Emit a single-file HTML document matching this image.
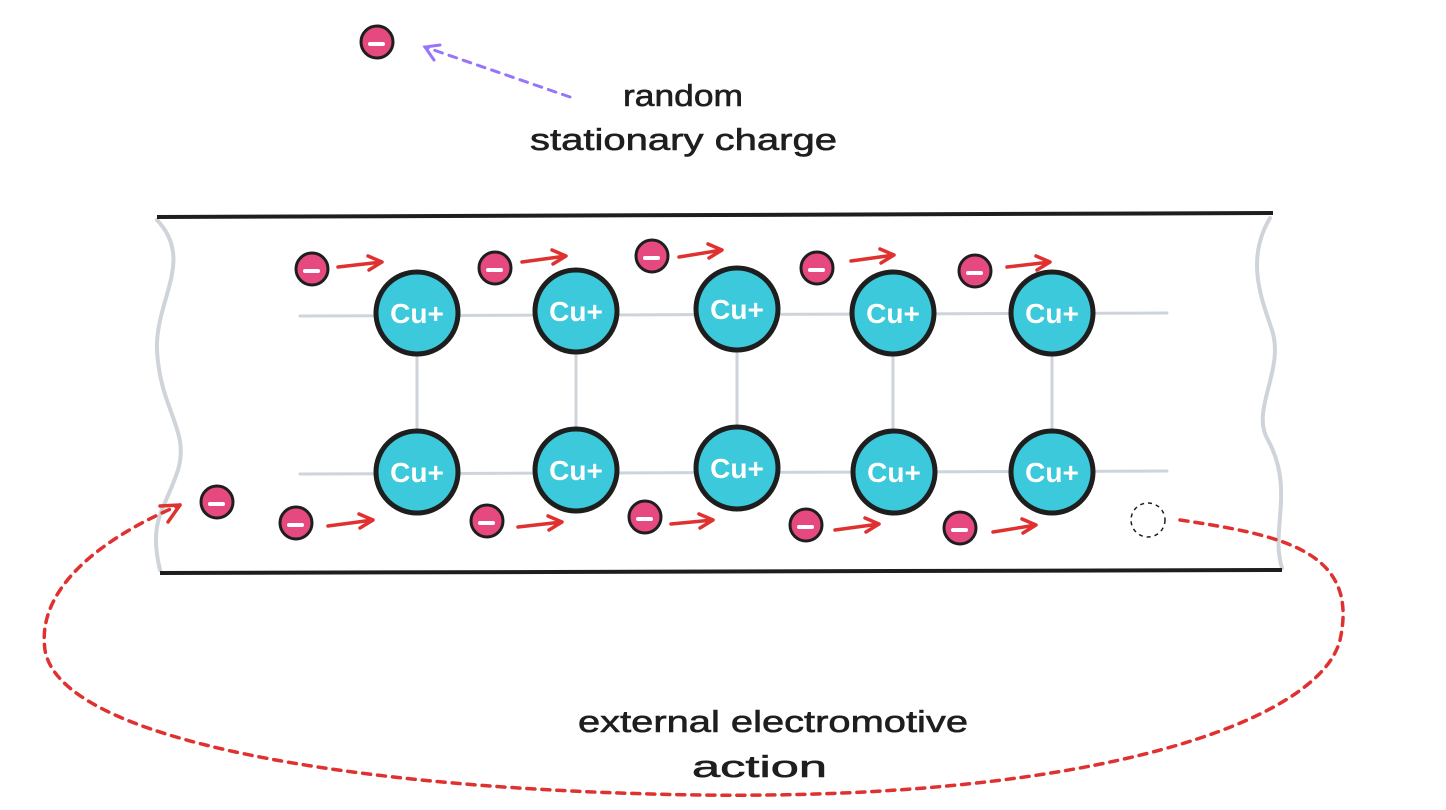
<!DOCTYPE html>
<html><head><meta charset="utf-8"><style>body{margin:0;background:#fff}svg{display:block}</style></head><body>
<svg width="1446" height="810" viewBox="0 0 1446 810" xmlns="http://www.w3.org/2000/svg" font-family="'Comic Sans MS','Liberation Sans',sans-serif">
<g stroke="#ced4da" stroke-width="3" fill="none" stroke-linecap="round">
<path d="M300 316 L1167 313"/><path d="M300 474 L1167 471"/>
<path d="M417 313 V472"/><path d="M576 311 V470"/><path d="M737 309 V468"/><path d="M893 313 V472"/><path d="M1052 313 V472"/>
<path d="M157 220 C195 260 155 300 157 350 C160 410 190 430 178 470 C165 510 148 520 160 570" stroke-width="4"/>
<path d="M1270 218 C1245 260 1262 300 1272 330 C1285 370 1250 410 1268 440 C1295 490 1270 530 1282 568" stroke-width="4"/>
</g>
<path d="M157 217 L1273 213" stroke="#1e1e1e" stroke-width="4"/>
<path d="M160 573 L1282 570" stroke="#1e1e1e" stroke-width="4"/>
<g fill="#3bc9db" stroke="#1e1e1e" stroke-width="5">
<circle cx="417" cy="313" r="41"/><circle cx="576" cy="311" r="41"/><circle cx="737" cy="309" r="41"/><circle cx="893" cy="313" r="41"/><circle cx="1052" cy="313" r="41"/>
<circle cx="417" cy="472" r="41"/><circle cx="576" cy="470" r="41"/><circle cx="737" cy="468" r="41"/><circle cx="894" cy="472" r="41"/><circle cx="1052" cy="472" r="41"/>
</g>
<g fill="#fff" font-size="28" font-weight="bold" text-anchor="middle">
<text x="417" y="323">Cu+</text><text x="576" y="321">Cu+</text><text x="737" y="319">Cu+</text><text x="893" y="323">Cu+</text><text x="1052" y="323">Cu+</text>
<text x="417" y="482">Cu+</text><text x="576" y="480">Cu+</text><text x="737" y="478">Cu+</text><text x="894" y="482">Cu+</text><text x="1052" y="482">Cu+</text>
</g>
<g fill="#e64980" stroke="#1e1e1e" stroke-width="3">
<circle cx="312" cy="269" r="16"/><circle cx="495" cy="268" r="16"/><circle cx="652" cy="256" r="16"/><circle cx="817" cy="268" r="16"/><circle cx="975" cy="271" r="16"/>
<circle cx="296" cy="523" r="16"/><circle cx="487" cy="521" r="16"/><circle cx="645" cy="517" r="16"/><circle cx="806" cy="525" r="16"/><circle cx="960" cy="528" r="16"/>
<circle cx="217" cy="502" r="16"/><circle cx="377" cy="42" r="16"/>
</g>
<g stroke="#fff" stroke-width="4" stroke-linecap="round">
<path d="M305 271h13"/><path d="M488 270h13"/><path d="M645 258h13"/><path d="M810 270h13"/><path d="M968 273h13"/>
<path d="M289 525h13"/><path d="M480 523h13"/><path d="M638 519h13"/><path d="M799 527h13"/><path d="M953 530h13"/>
<path d="M210 504h13"/><path d="M370 44h13"/>
</g>
<g stroke="#e03131" stroke-width="3.5" fill="none" stroke-linecap="round" stroke-linejoin="round">
<path d="M338 267 L382 262 M368 256 L382 262 L369 270"/>
<path d="M522 262 L566 256 M552 250 L566 256 L553 264"/>
<path d="M679 257 L722 250 M708 244 L722 250 L709 258"/>
<path d="M851 261 L894 255 M880 249 L894 255 L881 263"/>
<path d="M1007 267 L1050 262 M1036 256 L1050 262 L1037 270"/>
<path d="M328 526 L373 520 M359 514 L373 520 L360 528"/>
<path d="M518 527 L562 522 M548 516 L562 522 L549 530"/>
<path d="M671 524 L713 520 M699 514 L713 520 L700 528"/>
<path d="M835 530 L879 524 M865 518 L879 524 L866 532"/>
<path d="M993 532 L1036 525 M1022 519 L1036 525 L1023 533"/>
<path d="M1180 520 C1280 535 1360 550 1340 640 C1320 720 1100 800 700 795 C350 790 60 740 45 650 C35 580 120 530 180 505" stroke-dasharray="8 7"/>
<path d="M160 506 L180 505 L168 522"/>
</g>
<circle cx="1148" cy="520" r="17" fill="none" stroke="#1e1e1e" stroke-width="1.5" stroke-dasharray="4 4"/>
<g stroke="#9775fa" stroke-width="3" fill="none" stroke-linecap="round">
<path d="M570 97 L425 47" stroke-dasharray="8 7"/>
<path d="M440 45 L425 47 L434 60"/>
</g>
<g fill="#1e1e1e" font-size="31" stroke="#1e1e1e" stroke-width="0.6">
<text x="623" y="106" textLength="120" lengthAdjust="spacingAndGlyphs">random</text>
<text x="530" y="150" textLength="307" lengthAdjust="spacingAndGlyphs">stationary charge</text>
<text x="578" y="732" textLength="390" lengthAdjust="spacingAndGlyphs">external electromotive</text>
<text x="692" y="777" textLength="135" lengthAdjust="spacingAndGlyphs">action</text>
</g>
</svg>
</body></html>
